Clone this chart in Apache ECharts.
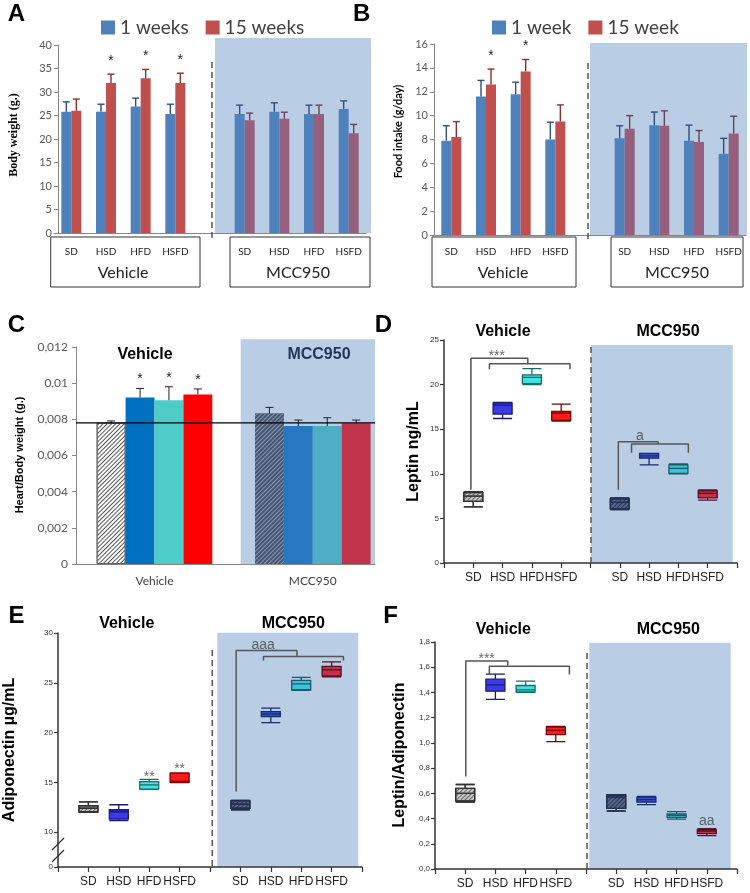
<!DOCTYPE html>
<html><head><meta charset="utf-8">
<script src="https://cdn.jsdelivr.net/npm/echarts@6/dist/echarts.min.js"></script>
<style>html,body{margin:0;padding:0;background:#fff}#c{width:750px;height:893px}</style>
</head><body><div id="c"></div><script>
// ---------- data ----------
const diets = ['SD', 'HSD', 'HFD', 'HSFD'];
const groups = ['Vehicle', 'MCC950'];
// Panel A: body weight (g), order Vehicle SD..HSFD, MCC950 SD..HSFD
const bodyW1 = [25.8, 25.8, 26.9, 25.3, 25.3, 25.8, 25.3, 26.4];
const bodyW1Sem = [2.1, 1.6, 1.8, 2.1, 1.9, 1.9, 1.9, 1.7];
const bodyW15 = [26.0, 31.9, 32.9, 31.9, 24.0, 24.3, 25.3, 21.2];
const bodyW15Sem = [2.5, 1.9, 1.9, 2.1, 1.5, 1.4, 1.9, 1.9];
const bodyW15Star = [0, 1, 1, 1, 0, 0, 0, 0];
// Panel B: food intake (g/day)
const food1 = [7.9, 11.6, 11.8, 8.0, 8.1, 9.2, 7.9, 6.8];
const food1Sem = [1.25, 1.35, 1.0, 1.45, 1.05, 1.1, 1.3, 1.3];
const food15 = [8.2, 12.6, 13.7, 9.5, 8.9, 9.15, 7.8, 8.5];
const food15Sem = [1.3, 1.3, 1.0, 1.4, 1.1, 1.25, 0.95, 1.45];
const food15Star = [0, 1, 1, 0, 0, 0, 0, 0];
// Panel C: heart / body weight
const heartRatio = [0.00781, 0.00921, 0.00906, 0.00938, 0.00833, 0.00763, 0.00763, 0.00778];
const heartSem = [0.0001, 0.0005, 0.00074, 0.0003, 0.00033, 0.00033, 0.00046, 0.00018];
const heartStar = [0, 1, 1, 1, 0, 0, 0, 0];
const heartRef = 0.0078;
// Panels D-F: [min, Q1, median, Q3, max]
const leptin = [[6.3, 6.9, 7.5, 7.9, 8.0], [16.2, 16.7, 17.7, 17.95, 18.0], [20.0, 20.1, 20.8, 21.1, 21.8], [15.9, 16.0, 16.8, 17.0, 17.8],
                [6.0, 6.1, 6.8, 7.2, 7.3], [11.0, 11.75, 12.0, 12.3, 12.3], [10.0, 10.05, 10.6, 11.0, 11.1], [7.05, 7.3, 7.8, 8.1, 8.2]];
const adipo = [[12.0, 12.05, 12.4, 12.65, 13.05], [11.15, 11.3, 12.05, 12.25, 12.75], [14.3, 14.32, 14.75, 15.08, 15.3], [14.98, 15.0, 15.1, 15.93, 15.95],
               [12.25, 12.4, 12.8, 13.15, 13.2], [21.0, 21.6, 21.85, 22.1, 22.45], [24.25, 24.3, 24.9, 25.25, 25.55], [25.6, 25.7, 26.3, 26.65, 27.1]];
const ratioLA = [[0.53, 0.54, 0.6, 0.64, 0.67], [1.345, 1.41, 1.46, 1.505, 1.545], [1.40, 1.405, 1.42, 1.455, 1.49], [1.01, 1.065, 1.1, 1.125, 1.13],
                 [0.46, 0.48, 0.57, 0.585, 0.59], [0.51, 0.53, 0.55, 0.57, 0.575], [0.395, 0.41, 0.425, 0.437, 0.455], [0.265, 0.28, 0.3, 0.31, 0.32]];
// significance brackets in data space: x = slot (0 axis, 1..4 Vehicle, 6..9 MCC950), y = value
const leptinBrackets = [
  [[0.92, 8.2], [0.92, 22.95], [2.86, 22.95], [2.86, 22.35]],
  [[1.55, 21.72], [1.55, 22.35], [4.3, 22.35], [4.3, 21.72]],
  [[5.95, 8.2], [5.95, 13.6], [7.31, 13.6], [7.31, 13.34]],
  [[6.4, 12.37], [6.4, 13.34], [8.34, 13.34], [8.34, 12.37]]
];
const leptinMarks = [[1.8, 23.2, '***'], [6.69, 14.27, 'a']];
const adipoBrackets = [
  [[5.86, 14.08], [5.86, 28.25], [7.86, 28.25], [7.86, 27.65]],
  [[6.76, 27.25], [6.76, 27.65], [9.39, 27.65], [9.39, 27.25]]
];
const adipoMarks = [[6.75, 28.8, 'aaa'], [3, 15.56, '**'], [4, 16.29, '**']];
const ratioBrackets = [
  [[1.02, 0.733], [1.02, 1.65], [2.41, 1.65], [2.41, 1.616]],
  [[1.8, 1.543], [1.8, 1.608], [4.45, 1.608], [4.45, 1.543]]
];
const ratioMarks = [[1.71, 1.665, '***'], [9.0, 0.382, 'aa']];
const adipoTicks = [6.5, 10, 15, 20, 25, 30];

// ---------- helpers ----------
const cats9 = [...diets, '', ...diets];
const cats11 = ['', ...diets, '', ...diets, ''];
const slots9 = v => [v[0], v[1], v[2], v[3], '-', v[4], v[5], v[6], v[7]];
const slotOf9 = i => (i < 4 ? i : i + 1);
const slotOf11 = i => (i < 4 ? i + 1 : i + 2);

const BLUE = '#4F81BD', RED = '#C0504D', MAUVE = '#94607E', SHADE = '#B9CDE5';
const SANS = 'Liberation Sans', CAL = 'Lato';

function errData(vals, sems, stars, mapIdx) {
  return vals.map((v, i) => [mapIdx(i), v, v + sems[i], stars ? stars[i] : 0, i < 4 ? 0 : 1]);
}
function errRender(offset, colors, capHalf, starGap, lw) {
  return function (params, api) {
    const ci = api.value(0), v = api.value(1), top = api.value(2), star = api.value(3), g = api.value(4);
    const p0 = api.coord([ci, v]), p1 = api.coord([ci, top]);
    const x = p0[0] + offset, col = colors[g];
    const ch = [
      { type: 'line', shape: { x1: x, y1: p0[1], x2: x, y2: p1[1] }, style: { stroke: col, lineWidth: lw } },
      { type: 'line', shape: { x1: x - capHalf, y1: p1[1], x2: x + capHalf, y2: p1[1] }, style: { stroke: col, lineWidth: lw } }
    ];
    if (star) ch.push({ type: 'text', x: x, y: p1[1] - starGap, style: { text: '*', align: 'center', verticalAlign: 'bottom', font: '14px "Liberation Sans"', fill: '#222' } });
    return { type: 'group', children: ch };
  };
}
const hatch = (c) => ({ symbol: 'rect', symbolSize: 1, dashArrayX: [1, 0], dashArrayY: [1, 2], rotation: -Math.PI / 4, color: c });

const boxFill = ['#C8C8C8', '#3B3BE6', '#3FE3E3', '#FF1A1A', '#56668A', '#3550C8', '#3CC3DA', '#C2304A'];
const boxBorder = ['#333333', '#1A1A70', '#1C6A6A', '#7A0000', '#243050', '#1A2A70', '#1C5A6A', '#5A1020'];
function boxSeries(data, xi, yi) {
  return {
    type: 'boxplot', xAxisIndex: xi, yAxisIndex: yi, boxWidth: [19, 19], encode: { x: 0, y: [1, 2, 3, 4, 5] },
    data: data.map((d, i) => ({
      value: [slotOf11(i), ...d],
      itemStyle: Object.assign({ color: boxFill[i], borderColor: boxBorder[i], borderWidth: 1.3 },
        (i % 4 === 0) ? { decal: hatch(i === 0 ? '#666' : '#2A3550') } : {})
    }))
  };
}
function bracketSeries(br, xi, yi) {
  const data = [];
  br.forEach((b, k) => { if (k) data.push(['-', '-']); b.forEach(p => data.push(p)); });
  return { type: 'line', xAxisIndex: xi, yAxisIndex: yi, data, symbol: 'none', silent: true, connectNulls: false,
    lineStyle: { color: '#555', width: 1.5 } };
}
function markSeries(marks, xi, yi) {
  return { type: 'scatter', xAxisIndex: xi, yAxisIndex: yi, symbolSize: 1, silent: true, itemStyle: { color: 'rgba(0,0,0,0)' },
    data: marks.map(m => ({ value: [m[0], m[1]], name: m[2] })),
    label: { show: true, position: 'inside', formatter: '{b}', color: '#444', fontSize: 14, fontFamily: SANS } };
}

// ---------- axes ----------
const xlLine = { show: true, lineStyle: { color: '#868686', width: 1 } };
const xlLabel = { color: '#595959', fontSize: 11, fontFamily: CAL, margin: 6 };
const bxLine = { show: true, lineStyle: { color: '#333', width: 1.5 } };
const bxTickY = { show: true, length: 4, lineStyle: { color: '#333', width: 1.2 } };
const bxLabelY = { color: '#333', fontSize: 8, fontFamily: SANS, margin: 5 };
const bxCatX = (g) => ({ type: 'category', gridIndex: g, data: cats11, boundaryGap: false, axisLine: bxLine,
  axisTick: { show: true, interval: 0, length: 5, lineStyle: { color: '#333', width: 1.2 } },
  axisLabel: { interval: 0, fontSize: 12, color: '#222', fontFamily: SANS, margin: 9 } });
const hidValX = (g) => ({ type: 'value', gridIndex: g, min: 0, max: 10, show: false });

const grids = [
  { left: 54, top: 45, width: 312, height: 188 },
  { left: 434, top: 44, width: 312, height: 191 },
  { left: 76, top: 347, width: 299, height: 217 },
  { left: 96.7, top: 347, width: 115.6, height: 217 },
  { left: 255, top: 347, width: 115.6, height: 217 },
  { left: 444, top: 340, width: 293, height: 223 },
  { left: 58, top: 633, width: 304, height: 234 },
  { left: 435, top: 642, width: 302, height: 227 }
].map(g => Object.assign({ containLabel: false, outerBoundsMode: 'none' }, g));

const xAxis = [
  { type: 'category', gridIndex: 0, data: cats9, axisLine: xlLine, axisTick: { show: false },
    axisLabel: { interval: 0, fontSize: 10, color: '#222', fontFamily: CAL, margin: 14 } },
  { type: 'category', gridIndex: 1, data: cats9, axisLine: xlLine, axisTick: { show: false },
    axisLabel: { interval: 0, fontSize: 10, color: '#222', fontFamily: CAL, margin: 12 } },
  { type: 'value', gridIndex: 2, min: 0, max: 1, axisLine: xlLine, axisTick: { show: false }, axisLabel: { show: false }, splitLine: { show: false } },
  { type: 'category', gridIndex: 3, data: diets, axisLine: { show: false }, axisTick: { show: false }, axisLabel: { show: false },
    name: groups[0], nameLocation: 'middle', nameGap: 11, nameTextStyle: { fontSize: 12, color: '#404040', fontFamily: CAL } },
  { type: 'category', gridIndex: 4, data: diets, axisLine: { show: false }, axisTick: { show: false }, axisLabel: { show: false },
    name: groups[1], nameLocation: 'middle', nameGap: 11, nameTextStyle: { fontSize: 12, color: '#404040', fontFamily: CAL } },
  bxCatX(5), hidValX(5),
  bxCatX(6), hidValX(6),
  bxCatX(7), hidValX(7)
];
const yAxis = [
  { type: 'value', gridIndex: 0, min: 0, max: 40, interval: 5, offset: -4, axisLine: xlLine,
    axisTick: { show: true, length: 4, lineStyle: { color: '#868686' } }, axisLabel: xlLabel, splitLine: { show: false } },
  { type: 'value', gridIndex: 1, min: 0, max: 16, interval: 2, axisLine: xlLine,
    axisTick: { show: true, length: 4, lineStyle: { color: '#868686' } }, axisLabel: xlLabel, splitLine: { show: false } },
  { type: 'value', gridIndex: 2, min: 0, max: 0.012, interval: 0.002, axisLine: xlLine,
    axisTick: { show: true, length: 4, lineStyle: { color: '#868686' } },
    axisLabel: Object.assign({}, xlLabel, { fontSize: 12, margin: 8, formatter: v => (v === 0 ? '0' : String(+v.toFixed(3)).replace('.', ',')) }),
    splitLine: { show: false } },
  { type: 'value', gridIndex: 3, min: 0, max: 0.012, show: false },
  { type: 'value', gridIndex: 4, min: 0, max: 0.012, show: false },
  { type: 'value', gridIndex: 5, min: 0, max: 25, interval: 5, axisLine: bxLine, axisTick: bxTickY, axisLabel: bxLabelY, splitLine: { show: false } },
  { type: 'value', gridIndex: 6, min: 6.5, max: 30, axisLine: bxLine,
    axisTick: Object.assign({ customValues: adipoTicks }, bxTickY),
    axisLabel: Object.assign({ customValues: adipoTicks, formatter: v => (v < 9 ? '0' : String(v)) }, bxLabelY), splitLine: { show: false } },
  { type: 'value', gridIndex: 7, min: 0, max: 1.8, interval: 0.2, axisLine: bxLine, axisTick: bxTickY,
    axisLabel: Object.assign({ formatter: v => v.toFixed(1).replace('.', ',') }, bxLabelY), splitLine: { show: false } }
];

// ---------- series ----------
const cStyles = [
  { color: '#FFFFFF', borderColor: '#555', borderWidth: 0.8, decal: hatch('#555') },
  { color: '#0070C0' }, { color: '#4ECDC8' }, { color: '#FF0000' },
  { color: '#44546F', decal: hatch('#8C9AB3') },
  { color: '#2678C2' }, { color: '#4FADC5' }, { color: '#C0334A' }
];
const series = [
  { type: 'bar', name: '1 weeks', xAxisIndex: 0, yAxisIndex: 0, data: slots9(bodyW1), barWidth: 10, barGap: '0%', itemStyle: { color: BLUE } },
  { type: 'bar', name: '15 weeks', xAxisIndex: 0, yAxisIndex: 0, barWidth: 10, barGap: '0%', itemStyle: { color: RED },
    data: slots9(bodyW15).map((v, i) => (i > 4 ? { value: v, itemStyle: { color: MAUVE } } : v)) },
  { type: 'custom', xAxisIndex: 0, yAxisIndex: 0, encode: { x: 0, y: [1, 2] }, z: 3,
    data: errData(bodyW1, bodyW1Sem, null, slotOf9), renderItem: errRender(-5, ['#2E4E7E', '#2E4E7E'], 3.5, 6, 1.4) },
  { type: 'custom', xAxisIndex: 0, yAxisIndex: 0, encode: { x: 0, y: [1, 2] }, z: 3,
    data: errData(bodyW15, bodyW15Sem, bodyW15Star, slotOf9), renderItem: errRender(5, ['#8C302D', '#6E4058'], 3.5, 6, 1.4) },

  { type: 'bar', name: '1 week', xAxisIndex: 1, yAxisIndex: 1, data: slots9(food1), barWidth: 10, barGap: '0%', itemStyle: { color: BLUE } },
  { type: 'bar', name: '15 week', xAxisIndex: 1, yAxisIndex: 1, barWidth: 10, barGap: '0%', itemStyle: { color: RED },
    data: slots9(food15).map((v, i) => (i > 4 ? { value: v, itemStyle: { color: MAUVE } } : v)) },
  { type: 'custom', xAxisIndex: 1, yAxisIndex: 1, encode: { x: 0, y: [1, 2] }, z: 3,
    data: errData(food1, food1Sem, null, slotOf9), renderItem: errRender(-5, ['#2E4E7E', '#2E4E7E'], 3.5, 6, 1.4) },
  { type: 'custom', xAxisIndex: 1, yAxisIndex: 1, encode: { x: 0, y: [1, 2] }, z: 3,
    data: errData(food15, food15Sem, food15Star, slotOf9), renderItem: errRender(5, ['#8C302D', '#6E4058'], 3.5, 6, 1.4) },

  { type: 'bar', xAxisIndex: 3, yAxisIndex: 3, barCategoryGap: '0%',
    data: heartRatio.slice(0, 4).map((v, i) => ({ value: v, itemStyle: cStyles[i] })) },
  { type: 'bar', xAxisIndex: 4, yAxisIndex: 4, barCategoryGap: '0%',
    data: heartRatio.slice(4).map((v, i) => ({ value: v, itemStyle: cStyles[i + 4] })) },
  { type: 'custom', xAxisIndex: 3, yAxisIndex: 3, encode: { x: 0, y: [1, 2] }, z: 3,
    data: errData(heartRatio.slice(0, 4), heartSem.slice(0, 4), heartStar.slice(0, 4), i => i), renderItem: errRender(0, ['#222', '#222'], 4, 2, 1) },
  { type: 'custom', xAxisIndex: 4, yAxisIndex: 4, encode: { x: 0, y: [1, 2] }, z: 3,
    data: errData(heartRatio.slice(4), heartSem.slice(4), heartStar.slice(4), i => i), renderItem: errRender(0, ['#222', '#222'], 4, 2, 1) },
  { type: 'line', xAxisIndex: 2, yAxisIndex: 2, z: 5, symbol: 'none', silent: true,
    data: [[0, heartRef], [1, heartRef]], lineStyle: { color: '#000', width: 1.2 } },

  boxSeries(leptin, 5, 5), bracketSeries(leptinBrackets, 6, 5), markSeries(leptinMarks, 6, 5),
  boxSeries(adipo, 7, 6), bracketSeries(adipoBrackets, 8, 6), markSeries(adipoMarks, 8, 6),
  boxSeries(ratioLA, 9, 7), bracketSeries(ratioBrackets, 10, 7), markSeries(ratioMarks, 10, 7)
];

// ---------- decoration ----------
const g = [];
const rect = (x, y, w, h, st, z) => g.push({ type: 'rect', z: z, shape: { x, y, width: w, height: h }, style: st });
const dash = (x, y1, y2) => g.push({ type: 'line', z: 1, shape: { x1: x, y1, x2: x, y2 }, style: { stroke: '#555', lineWidth: 1.5, lineDash: [6, 4] } });
const txt = (t, x, y, font, fill, rot) => g.push({ type: 'text', z: 10, x, y, rotation: rot || 0,
  style: { text: t, font, fill: fill || '#000', align: 'center', verticalAlign: 'middle' } });
// shaded MCC950 regions
rect(215, 38, 156, 195, { fill: SHADE }, -1);
rect(590, 43, 157, 192, { fill: SHADE }, -1);
rect(240.7, 339.3, 134.3, 225, { fill: SHADE }, -1);
rect(591, 345, 141.7, 218, { fill: SHADE }, -1);
rect(217.3, 632.7, 141, 234, { fill: SHADE }, -1);
rect(589.3, 642.7, 141.4, 226.6, { fill: SHADE }, -1);
// separators
dash(212, 62, 240); dash(588, 63, 240); dash(591, 347, 566); dash(212.3, 650, 868); dash(587, 653, 870);
// group boxes A/B
const boxSt = { fill: 'none', stroke: '#333', lineWidth: 1 };
rect(50.7, 237, 149.3, 50, boxSt, 1); rect(230, 237, 140, 50, boxSt, 1);
rect(432, 237, 144, 50, boxSt, 1); rect(611, 237, 132, 50, boxSt, 1);
const grpFont = '16px Lato';
txt(groups[0], 123, 273, grpFont, '#222'); txt(groups[1], 298, 273, grpFont, '#222');
txt(groups[0], 503, 273, grpFont, '#222'); txt(groups[1], 677, 273, grpFont, '#222');
// panel letters
const lf = 'bold 24px "Liberation Sans"';
txt('A', 16.5, 14, lf); txt('B', 361.7, 14, lf); txt('C', 16.5, 325, lf); txt('D', 383.5, 325, lf); txt('E', 16.5, 616.5, lf); txt('F', 390.5, 616.5, lf);
// group titles
const tf = 'bold 16px "Liberation Sans"';
txt(groups[0], 145, 355, tf); txt(groups[1], 319, 355, tf, '#1F3556');
txt(groups[0], 503, 332, tf); txt(groups[1], 668, 332, tf);
txt(groups[0], 126.7, 623.5, tf); txt(groups[1], 293.3, 623.5, tf);
txt(groups[0], 503.3, 630, tf); txt(groups[1], 668.3, 630, tf);
// axis titles
const R = Math.PI / 2;
txt('Body weight (g.)', 14, 135, 'bold 12px "Liberation Serif"', '#000', R);
txt('Food intake (g/day)', 398, 131.5, 'bold 11px Lato', '#000', R);
txt('Heart/Body weight (g.)', 20, 455, 'bold 11px "Liberation Sans"', '#000', R);
txt('Leptin ng/mL', 413.5, 451.5, 'bold 16px "Liberation Sans"', '#000', R);
txt('Adiponectin µg/mL', 9.5, 750, 'bold 16px "Liberation Sans"', '#000', R);
txt('Leptin/Adiponectin', 400, 755, 'bold 16px "Liberation Sans"', '#000', R);
// axis break marks on E
g.push({ type: 'line', z: 10, shape: { x1: 52, y1: 850, x2: 64, y2: 838 }, style: { stroke: '#333', lineWidth: 1.3 } });
g.push({ type: 'line', z: 10, shape: { x1: 52, y1: 862, x2: 64, y2: 850 }, style: { stroke: '#333', lineWidth: 1.3 } });

const legendBase = { padding: 0, itemWidth: 14, itemHeight: 14, itemGap: 17, icon: 'rect', selectedMode: false,
  textStyle: { fontSize: 19, fontFamily: CAL, color: '#404040' } };

const chart = echarts.init(document.getElementById('c'), null, { renderer: 'canvas', width: 750, height: 893 });
chart.setOption({
  animation: false,
  backgroundColor: '#fff',
  textStyle: { fontFamily: SANS },
  legend: [
    Object.assign({ data: ['1 weeks', '15 weeks'], left: 101, top: 18 }, legendBase),
    Object.assign({ data: ['1 week', '15 week'], left: 492, top: 18 }, legendBase)
  ],
  grid: grids, xAxis, yAxis, series,
  graphic: { elements: g }
});
</script></body></html>
